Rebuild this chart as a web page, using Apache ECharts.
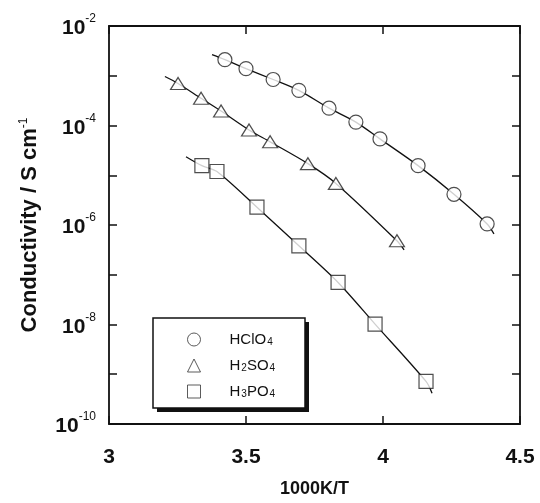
<!DOCTYPE html>
<html>
<head>
<meta charset="utf-8">
<script src="https://cdn.jsdelivr.net/npm/echarts@6/dist/echarts.min.js"></script>
<style>html,body{margin:0;padding:0;background:#fff}#c{width:540px;height:503px}</style>
</head>
<body>
<div id="c"></div>
<script>
// x: 1000K/T, y: conductivity (S cm^-1)
var hclo4X = [3.423, 3.500, 3.599, 3.693, 3.803, 3.901, 3.989, 4.128, 4.259, 4.380];
var hclo4Y = [2.10e-3, 1.39e-3, 8.41e-4, 5.08e-4, 2.23e-4, 1.17e-4, 5.38e-5, 1.56e-5, 4.14e-6, 1.05e-6];
var h2so4X = [3.252, 3.336, 3.409, 3.511, 3.588, 3.726, 3.828, 4.051];
var h2so4Y = [7.0e-4, 3.52e-4, 1.95e-4, 8.13e-5, 4.70e-5, 1.71e-5, 6.86e-6, 4.81e-7];
var h3po4X = [3.339, 3.394, 3.540, 3.693, 3.836, 3.971, 4.157];
var h3po4Y = [1.56e-5, 1.19e-5, 2.28e-6, 3.82e-7, 7.0e-8, 1.02e-8, 7.18e-10];
// fitted curve end points (start, end)
var hclo4FitEnds = [[3.376, 2.65e-3], [4.405, 6.62e-7]];
var h2so4FitEnds = [[3.204, 9.66e-4], [4.077, 3.18e-7]];
var h3po4FitEnds = [[3.281, 2.36e-5], [4.179, 4.14e-10]];
var seriesNames = ['HClO4', 'H2SO4', 'H3PO4'];
var xTicks = [3, 3.5, 4, 4.5];
var yMin = 1e-10, yMax = 1e-2;

function pts(xs, ys) { return xs.map(function (x, i) { return [x, ys[i]]; }); }
function fit(xs, ys, ends) { return [ends[0]].concat(pts(xs, ys), [ends[1]]); }

var FONT = '"Liberation Sans", Arial, sans-serif';
var symbols = ['circle', 'triangle', 'rect'];
var sizes = [[14, 14], [15, 12], [14, 14]];
var allX = [hclo4X, h2so4X, h3po4X], allY = [hclo4Y, h2so4Y, h3po4Y];
var allEnds = [hclo4FitEnds, h2so4FitEnds, h3po4FitEnds];

var series = [];
for (var i = 0; i < 3; i++) {
  series.push({
    type: 'line', name: seriesNames[i] + '_fit', data: fit(allX[i], allY[i], allEnds[i]),
    smooth: 0.3, showSymbol: false, symbol: 'none', silent: true,
    lineStyle: { color: '#111', width: 1.3 }, z: 2
  });
}
for (var j = 0; j < 3; j++) {
  series.push({
    type: 'scatter', name: seriesNames[j], data: pts(allX[j], allY[j]),
    symbol: symbols[j], symbolSize: sizes[j],
    itemStyle: { color: '#fff', borderColor: '#222', borderWidth: 1.2 }, z: 3
  });
}

function legendFmt(n) {
  var out = '', parts = n.split(/(\d)/);
  parts.forEach(function (p, k) { if (!p) return; out += (k % 2 ? '{s|' + p + '}' : '{n|' + p + '}'); });
  return out;
}

var tickStyle = { show: true, inside: true, length: 8, lineStyle: { color: '#111', width: 1.5 } };
var lineStyle = { show: true, lineStyle: { color: '#111', width: 1.8 } };

var chart = echarts.init(document.getElementById('c'), null, { renderer: 'canvas' });
chart.setOption({
  animation: false,
  backgroundColor: '#fff',
  grid: { left: 109, right: 20, top: 26, bottom: 75, containLabel: false },
  graphic: [
    { type: 'rect', z: 10, shape: { x: 157, y: 322, width: 152, height: 90 }, style: { fill: '#111' } },
    { type: 'rect', z: 11, shape: { x: 153, y: 318, width: 152, height: 90 }, style: { fill: '#fff', stroke: '#111', lineWidth: 1.5 } }
  ],
  legend: {
    data: seriesNames, orient: 'vertical', left: 153, top: 318, z: 20,
    padding: [14, 5, 14, 34], itemGap: 11, itemWidth: 13, itemHeight: 13,
    backgroundColor: 'transparent', borderWidth: 0,
    formatter: legendFmt,
    itemStyle: { color: '#fff', borderColor: '#333', borderWidth: 1 },
    textStyle: {
      padding: [0, 0, 0, 24],
      rich: {
        n: { fontFamily: FONT, fontSize: 15, color: '#111' },
        s: { fontFamily: FONT, fontSize: 10, color: '#111', verticalAlign: 'bottom', padding: [5, 0, 0, 1] }
      }
    }
  },
  xAxis: [{
    type: 'value', min: 3, max: 4.5, interval: 0.5, position: 'bottom',
    name: '1000K/T', nameLocation: 'middle', nameGap: 56,
    nameTextStyle: { fontFamily: FONT, fontSize: 18, color: '#111', fontWeight: 'bold' },
    axisLine: lineStyle, axisTick: tickStyle, splitLine: { show: false },
    axisLabel: { fontFamily: FONT, fontSize: 21, color: '#111', margin: 23, fontWeight: 'bold',
      formatter: function (v) { return xTicks.indexOf(v) >= 0 ? String(v) : ''; } }
  }, {
    type: 'value', min: 3, max: 4.5, interval: 0.5, position: 'top',
    axisLine: lineStyle, axisTick: tickStyle, axisLabel: { show: false }, splitLine: { show: false }
  }],
  yAxis: [{
    type: 'log', logBase: 10, min: yMin, max: yMax, splitNumber: 8, interval: 1, position: 'left',
    name: '{t|Conductivity / S cm}{u|-1}', nameLocation: 'middle', nameGap: 68,
    nameTextStyle: { rich: {
      t: { fontFamily: FONT, fontSize: 22, color: '#111', fontWeight: 'bold' },
      u: { fontFamily: FONT, fontSize: 12, color: '#111', verticalAlign: 'top', padding: [0, 0, 11, 0] }
    } },
    axisLine: lineStyle, axisTick: tickStyle, splitLine: { show: false }, minorTick: { show: false },
    axisLabel: {
      margin: 13,
      formatter: function (v) {
        var e = Math.round(Math.log(v) / Math.LN10);
        if (e % 2 !== 0) return '';
        return '{b|10}{s|' + e + '}';
      },
      rich: {
        b: { fontFamily: FONT, fontSize: 21, color: '#111', fontWeight: 'bold', verticalAlign: 'bottom', lineHeight: 26 },
        s: { fontFamily: FONT, fontSize: 12, color: '#111', verticalAlign: 'top', lineHeight: 26, padding: [0, 0, 12, 0] }
      }
    }
  }, {
    type: 'log', logBase: 10, min: yMin, max: yMax, splitNumber: 8, interval: 1, position: 'right',
    axisLine: lineStyle, axisTick: tickStyle, axisLabel: { show: false }, splitLine: { show: false }
  }],
  series: series
});
</script>
</body>
</html>
